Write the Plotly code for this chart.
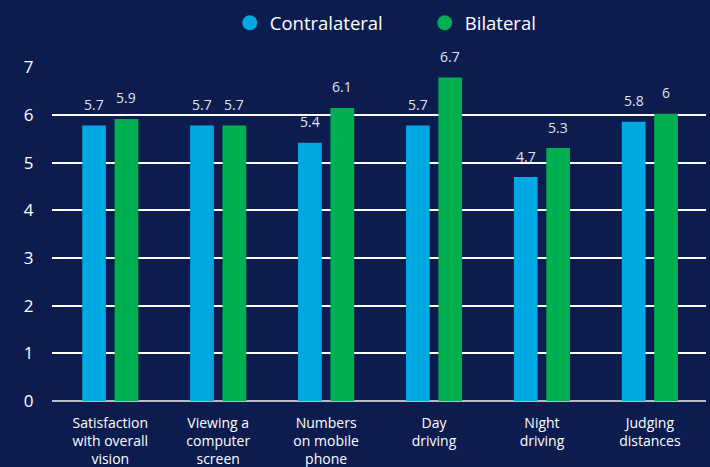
import plotly.graph_objects as go

categories = ["Satisfaction<br>with overall<br>vision", "Viewing a<br>computer<br>screen",
              "Numbers<br>on mobile<br>phone", "Day<br>driving", "Night<br>driving", "Judging<br>distances"]
contralateral = [5.78, 5.78, 5.42, 5.78, 4.70, 5.86]
bilateral = [5.92, 5.78, 6.15, 6.79, 5.31, 6.03]
contralateral_labels = ["5.7", "5.7", "5.4", "5.7", "4.7", "5.8"]
bilateral_labels = ["5.9", "5.7", "6.1", "6.7", "5.3", "6"]
y_ticks = [0, 1, 2, 3, 4, 5, 6, 7]

BG = "#0d1c4e"
BLUE = "#00a8e1"
GREEN = "#00b050"
FONT = "Open Sans"

fig = go.Figure()
fig.add_trace(go.Bar(x=categories, y=contralateral, marker=dict(color=BLUE, line=dict(width=0)),
                     width=0.22, offset=-0.26, showlegend=False, name="Contralateral"))
fig.add_trace(go.Bar(x=categories, y=bilateral, marker=dict(color=GREEN, line=dict(width=0)),
                     width=0.22, offset=0.04, showlegend=False, name="Bilateral"))
# legend entries with circle markers
fig.add_trace(go.Scatter(x=[None], y=[None], mode="markers", name="Contralateral",
                         marker=dict(color=BLUE, size=15, symbol="circle")))
fig.add_trace(go.Scatter(x=[None], y=[None], mode="markers", name="Bilateral",
                         marker=dict(color=GREEN, size=15, symbol="circle")))

annotations = []
for i, (v, t) in enumerate(zip(contralateral, contralateral_labels)):
    annotations.append(dict(x=i - 0.15, y=v, text=t, xref="x", yref="y", showarrow=False,
                            yanchor="middle", yshift=21, font=dict(size=14, color="#dfe3ea", family=FONT)))
for i, (v, t) in enumerate(zip(bilateral, bilateral_labels)):
    annotations.append(dict(x=i + 0.15, y=v, text=t, xref="x", yref="y", showarrow=False,
                            yanchor="middle", yshift=21, font=dict(size=14, color="#dfe3ea", family=FONT)))

fig.update_layout(
    width=710, height=467,
    paper_bgcolor=BG, plot_bgcolor=BG,
    margin=dict(l=52, r=4, t=65, b=66),
    font=dict(family=FONT, color="white"),
    annotations=annotations,
    legend=dict(orientation="h", x=0.57, xanchor="center", y=1.131, yanchor="middle",
                font=dict(size=18.5, color="white", family=FONT), bgcolor="rgba(0,0,0,0)",
                entrywidth=150, entrywidthmode="pixels"),
    bargap=0.4,
)
fig.update_xaxes(type="category", range=[-0.54, 5.52], showgrid=False, showline=False,
                 tickfont=dict(size=14, color="white", family=FONT), ticks="outside",
                 ticklen=9, tickcolor="rgba(0,0,0,0)", zeroline=False, automargin=False)
fig.update_yaxes(range=[0, 7.01], tickvals=y_ticks, showgrid=True, gridcolor="white", gridwidth=1.5,
                 zeroline=True, zerolinecolor="#b8bcc8", zerolinewidth=2,
                 tickfont=dict(size=17, color="white", family=FONT), ticks="outside",
                 ticklen=14, tickcolor="rgba(0,0,0,0)", showline=False, automargin=False)

fig.write_html("out.html", config={"displayModeBar": False},
               post_script="document.body.style.margin='0';document.body.style.overflow='hidden';")
